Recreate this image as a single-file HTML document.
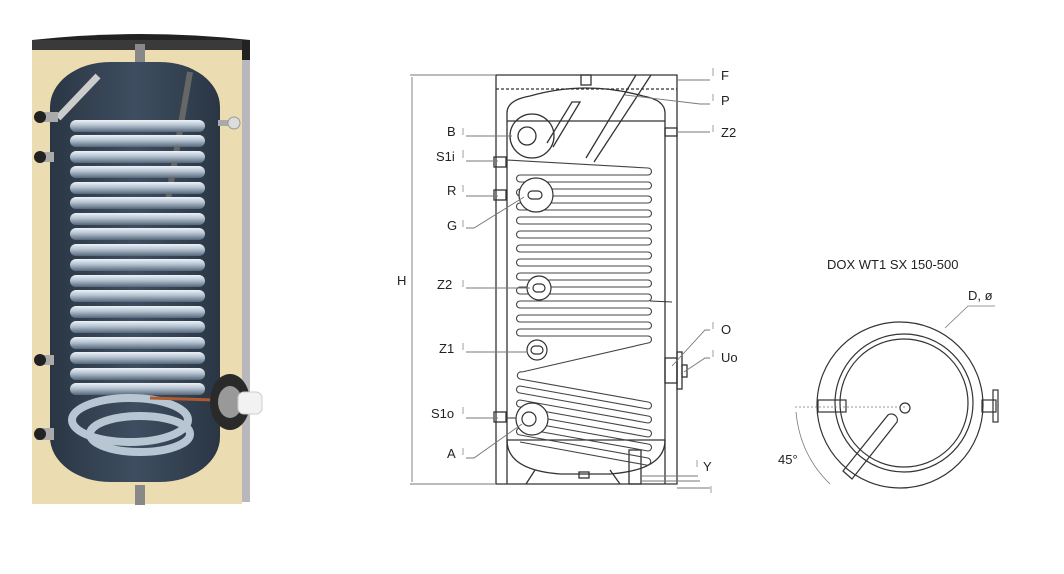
<!DOCTYPE html>
<html><head><meta charset="utf-8"><style>
html,body{margin:0;padding:0;background:#fff;}
svg{display:block;}
text{font-family:"Liberation Sans",sans-serif;}
</style></head><body>
<svg width="1064" height="574" viewBox="0 0 1064 574" xmlns="http://www.w3.org/2000/svg">
<defs>
<linearGradient id="coil" x1="0" y1="0" x2="0" y2="1">
<stop offset="0" stop-color="#eef3f8"/><stop offset="0.45" stop-color="#b4c2d0"/><stop offset="1" stop-color="#56677a"/>
</linearGradient>
<linearGradient id="tank" x1="0" y1="0" x2="1" y2="0">
<stop offset="0" stop-color="#2a3644"/><stop offset="0.5" stop-color="#3e4e60"/><stop offset="1" stop-color="#2a3644"/>
</linearGradient>
</defs>

<!-- LEFT PHOTO -->
<rect x="236" y="40" width="14" height="462" fill="#b8b8bc"/>
<path d="M32 40 Q140 28 250 40 L250 60 L32 60 Z" fill="#222"/>
<rect x="32" y="46" width="210" height="458" fill="#ecdcb2"/>
<rect x="32" y="40" width="210" height="10" fill="#3a3a3a"/>
<rect x="135" y="44" width="10" height="22" fill="#888"/>
<rect x="135" y="485" width="10" height="20" fill="#888"/>
<rect x="50" y="62" width="170" height="420" rx="60" ry="45" fill="url(#tank)"/>
<line x1="58" y1="118" x2="98" y2="76" stroke="#ccc" stroke-width="7"/>
<rect x="36" y="112" width="22" height="10" fill="#aaa"/>
<line x1="190" y1="72" x2="168" y2="200" stroke="#666" stroke-width="6"/>
<g fill="url(#coil)">
<rect x="70" y="120" width="135" height="12" rx="6"/><rect x="70" y="135" width="135" height="12" rx="6"/>
<rect x="70" y="151" width="135" height="12" rx="6"/><rect x="70" y="166" width="135" height="12" rx="6"/>
<rect x="70" y="182" width="135" height="12" rx="6"/><rect x="70" y="197" width="135" height="12" rx="6"/>
<rect x="70" y="213" width="135" height="12" rx="6"/><rect x="70" y="228" width="135" height="12" rx="6"/>
<rect x="70" y="244" width="135" height="12" rx="6"/><rect x="70" y="259" width="135" height="12" rx="6"/>
<rect x="70" y="275" width="135" height="12" rx="6"/><rect x="70" y="290" width="135" height="12" rx="6"/>
<rect x="70" y="306" width="135" height="12" rx="6"/><rect x="70" y="321" width="135" height="12" rx="6"/>
<rect x="70" y="337" width="135" height="12" rx="6"/><rect x="70" y="352" width="135" height="12" rx="6"/>
<rect x="70" y="368" width="135" height="12" rx="6"/><rect x="70" y="383" width="135" height="12" rx="6"/>
</g>
<g fill="none" stroke="#b8c6d4" stroke-width="8">
<ellipse cx="130" cy="420" rx="58" ry="22"/><ellipse cx="140" cy="434" rx="50" ry="18"/>
</g>
<rect x="36" y="152" width="18" height="10" fill="#aaa"/>
<rect x="36" y="355" width="18" height="10" fill="#aaa"/>
<rect x="36" y="428" width="18" height="12" fill="#aaa"/>
<circle cx="40" cy="117" r="6" fill="#222"/><circle cx="40" cy="157" r="6" fill="#222"/>
<circle cx="40" cy="360" r="6" fill="#222"/><circle cx="40" cy="434" r="6" fill="#222"/>
<rect x="218" y="120" width="14" height="6" fill="#aaa"/><circle cx="234" cy="123" r="6" fill="#ddd" stroke="#999"/>
<line x1="150" y1="398" x2="215" y2="400" stroke="#b05a30" stroke-width="3"/>
<ellipse cx="230" cy="402" rx="20" ry="28" fill="#2a2a2a"/>
<ellipse cx="230" cy="402" rx="12" ry="16" fill="#999"/>
<rect x="238" y="392" width="24" height="22" rx="6" fill="#f2f2f2" stroke="#ccc"/>

<!-- MIDDLE DRAWING -->
<g fill="none" stroke="#333" stroke-width="1.3">
<path d="M496 75 H677 V484 H496 Z"/>
<line x1="496" y1="89" x2="677" y2="89" stroke-dasharray="3,2"/>
<path d="M507 484 V113 Q507 100 530 96 Q586 80 643 96 Q665 100 665 113 V484"/>
<path d="M507 440 Q507 470 560 474 H610 Q665 470 665 440"/>
<line x1="507" y1="121" x2="665" y2="121"/>
<line x1="507" y1="440" x2="665" y2="440"/>
<rect x="581" y="75" width="10" height="10"/>
<path d="M586 158 L636 75 M594 162 L651 75"/>
<path d="M547 143 L572 102 H580 L553 147"/>
<circle cx="532" cy="136" r="22"/><circle cx="527" cy="136" r="9"/>
<rect x="494" y="157" width="12" height="10"/><rect x="494" y="190" width="12" height="10"/>
<rect x="494" y="412" width="12" height="10"/><rect x="665" y="128" width="12" height="8"/>
<rect x="665" y="358" width="12" height="25"/><rect x="677" y="352" width="5" height="37"/><rect x="682" y="365" width="5" height="12"/>
<rect x="629" y="450" width="12" height="34"/>
<path d="M526 484 L535 470 M610 470 L620 484"/>
<rect x="579" y="472" width="10" height="6"/>
</g>
<g fill="none" stroke="#444" stroke-width="1.1">
<path d="M506 160 L648 168 A3.5 3.5 0 0 1 648 175 H520 A3.5 3.5 0 0 0 520 182 H648 A3.5 3.5 0 0 1 648 189 H520 A3.5 3.5 0 0 0 520 196 H648 A3.5 3.5 0 0 1 648 203 H520 A3.5 3.5 0 0 0 520 210 H648 A3.5 3.5 0 0 1 648 217 H520 A3.5 3.5 0 0 0 520 224 H648 A3.5 3.5 0 0 1 648 231 H520 A3.5 3.5 0 0 0 520 238 H648 A3.5 3.5 0 0 1 648 245 H520 A3.5 3.5 0 0 0 520 252 H648 A3.5 3.5 0 0 1 648 259 H520 A3.5 3.5 0 0 0 520 266 H648 A3.5 3.5 0 0 1 648 273 H520 A3.5 3.5 0 0 0 520 280 H648 A3.5 3.5 0 0 1 648 287 H520 A3.5 3.5 0 0 0 520 294 H648 A3.5 3.5 0 0 1 648 301 H520 A3.5 3.5 0 0 0 520 308 H648 A3.5 3.5 0 0 1 648 315 H520 A3.5 3.5 0 0 0 520 322 H648 A3.5 3.5 0 0 1 648 329 H520"/>
<path d="M520 329 A3.5 3.5 0 0 0 520 336 H648 A3.5 3.5 0 0 1 648 343 L522 372"/>
<path d="M522 372 A3.5 3.5 0 0 0 520 379 L648 402 A3.5 3.5 0 0 1 648 409 L520 386 A3.5 3.5 0 0 0 520 393 L648 416 A3.5 3.5 0 0 1 648 423 L520 400 A3.5 3.5 0 0 0 520 407 L648 430 A3.5 3.5 0 0 1 648 437 L520 414 A3.5 3.5 0 0 0 520 421 L648 444 A3.5 3.5 0 0 1 648 451 L520 428 A3.5 3.5 0 0 0 520 435 L648 458 A3.5 3.5 0 0 1 646 465 L520 442"/>
<line x1="506" y1="418" x2="520" y2="418"/>
</g>
<g fill="#fff" stroke="#333" stroke-width="1.2">
<circle cx="536" cy="195" r="17"/><rect x="528" y="191" width="14" height="8" rx="4"/>
<circle cx="539" cy="288" r="12"/><rect x="533" y="284" width="12" height="8" rx="4"/>
<circle cx="537" cy="350" r="10"/><rect x="531" y="346" width="12" height="8" rx="4"/>
<circle cx="532" cy="419" r="16"/><circle cx="529" cy="419" r="7"/>
</g>
<line x1="650" y1="301" x2="672" y2="302" stroke="#333"/>
<g stroke="#777" stroke-width="0.9" fill="none">
<line x1="410" y1="75" x2="496" y2="75"/><line x1="410" y1="484" x2="496" y2="484"/>
<line x1="412" y1="77" x2="412" y2="482"/>
<path d="M466 136 H512 M466 161 H498 M466 196 H498 M466 228 H474 L524 197 M466 288 H530 M466 352 H528 M466 418 H498 M466 458 H474 L522 424"/>
<path d="M677 80 H710 M625 95 L700 104 H710 M677 132 H710 M672 366 L705 330 H710 M684 372 L705 358 H710 M640 476 H698 M640 481 H700 M677 488 H710"/>
</g>
<g stroke="#888" stroke-width="0.8">
<path d="M463 128 V135 M463 150 V158 M463 185 V192 M463 220 V227 M463 280 V287 M463 343 V350 M463 407 V414 M463 448 V455 M713 68 V76 M713 94 V101 M713 125 V132 M713 322 V329 M713 350 V357 M697 460 V467 M711 486 V493"/>
</g>
<g font-size="13" fill="#222">
<text x="447" y="136">B</text><text x="436" y="161">S1i</text><text x="447" y="195">R</text>
<text x="447" y="230">G</text><text x="437" y="289">Z2</text><text x="439" y="353">Z1</text>
<text x="431" y="418">S1o</text><text x="447" y="458">A</text><text x="397" y="285">H</text>
<text x="721" y="80">F</text><text x="721" y="105">P</text><text x="721" y="137">Z2</text>
<text x="721" y="334">O</text><text x="721" y="362">Uo</text><text x="703" y="471">Y</text>
</g>

<!-- RIGHT TOP VIEW -->
<text x="827" y="269" font-size="13" fill="#222">DOX WT1 SX 150-500</text>
<text x="968" y="300" font-size="13" fill="#222">D, ø</text>
<text x="778" y="464" font-size="13" fill="#222">45°</text>
<g fill="none" stroke="#333" stroke-width="1.2">
<circle cx="900" cy="405" r="83"/>
<circle cx="904" cy="403" r="69"/>
<circle cx="904" cy="403" r="64"/>
<circle cx="905" cy="408" r="5"/>
<path d="M843 471 L888 415 A6 6 0 0 1 897 422 L852 479 Z"/>
<rect x="818" y="400" width="28" height="12"/>
<rect x="982" y="400" width="14" height="12"/><rect x="993" y="390" width="5" height="32"/>
</g>
<g stroke="#777" stroke-width="0.8" fill="none">
<line x1="795" y1="407" x2="905" y2="407" stroke-dasharray="2,2"/>
<path d="M796 412 Q800 455 830 484"/>
<path d="M945 328 L968 306 H995"/>
</g>
</svg>
</body></html>
